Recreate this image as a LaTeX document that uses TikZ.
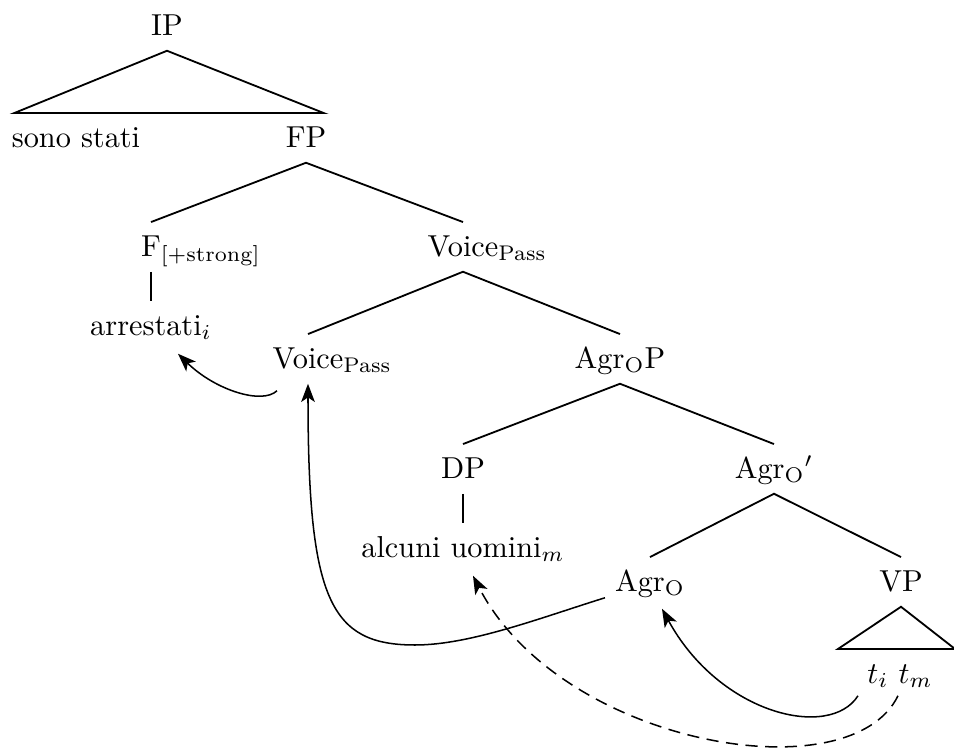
\documentclass[tikz,border=0pt]{standalone}
\usepackage{amsmath}
\usepackage{tikz}
\usetikzlibrary{positioning,arrows.meta,calc}

\begin{document}
\begin{tikzpicture}[
            x=0.33pt, y=-0.33pt,
            % Style for the labels of the tree
            lbl/.style={
                anchor=base,
                inner xsep=0pt,
                inner ysep=3pt,
                text height=8pt,
                text depth=2pt,
                font=\normalsize
            },
            % Style for the branches
            branch/.style={semithick},
            % Style for the movement arrows
            move/.style={
                -{Stealth[length=6pt,width=4.5pt,inset=1.5pt]},
                line width=0.5pt
            }
        ]
            \useasboundingbox (0,0) rectangle (954,748);

            % ROW 1: IP WITH ITS ROOF
            \node[lbl] (ip) at (167,35) {IP};
            \node[lbl] (sono) at (76,147) {sono stati};
            \node[lbl] (fp) at (306,147) {FP};
            \draw[branch] ($(sono.north west)+(3,0)$) -- (ip.south) -- ($(fp.north east)+(-3,0)$) -- cycle;

            % ROW 2: F AND VOICE
            \node[lbl] (f) at (151,256) {F\rlap{$_{[+\mathrm{strong}]}$}};
            \node[lbl] (vup) at (463,256) {Voice\rlap{$_{\mathrm{Pass}}$}};
            \node[lbl] (arr) at (151,335) {arrestati$_i$};
            \draw[branch] (f.north) -- (fp.south) -- (vup.north);
            \draw[branch] (f.south) -- (arr.north);

            % ROW 3: VOICE AND AGR-O P
            \node[lbl] (vlow) at (308,368) {Voice\rlap{$_{\mathrm{Pass}}$}};
            \node[lbl] (agrp) at (620,368) {Agr$_{\mathrm{O}}$P};
            \draw[branch] (vlow.north) -- (vup.south) -- (agrp.north);

            % ROW 4: DP AND AGR-O BAR
            \node[lbl] (dp) at (463,478) {DP};
            \node[lbl] (agrbar) at (774,478) {Agr$_{\mathrm{O}}{}'$};
            \node[lbl] (alc) at (463,557) {alcuni uomini$_m$};
            \draw[branch] (dp.north) -- (agrp.south) -- (agrbar.north);
            \draw[branch] (dp.south) -- (alc.north);

            % ROW 5: AGR-O AND VP WITH ITS ROOF
            \node[lbl] (agro) at (650,591) {Agr$_{\mathrm{O}}$};
            \node[lbl] (vp) at (901,591) {VP};
            \node[lbl] (tt) at (900,683) {$t_i$ $t_m$};
            \draw[branch] (agro.north) -- (agrbar.south) -- (vp.north);
            \draw[branch] ($(tt.north west)+(-29,0)$) -- (vp.south)
                -- ($(tt.north east)+(22,0)$) -- cycle;

            % MOVEMENT ARROWS
            \draw[move] ($(vlow.south)+(-31,7)$) .. controls (262,405) and (215,390) .. ($(arr.south)+(27,3)$);
            \draw[move] ($(agro.south)+(-45,-9)$) .. controls (540,618) and (470,645) .. (415,645)
                .. controls (330,645) and (308,600) .. (vlow.south);
            \draw[move] ($(tt.south)+(-42,-3)$) .. controls (830,740) and (720,715) .. ($(agro.south)+(12,2)$);
            \draw[move, dash pattern=on 4pt off 2.5pt] ($(tt.south)+(-2,-3)$) .. controls (850,795) and (560,745) .. ($(alc.south)+(10,3)$);

        \end{tikzpicture}
\end{document}
